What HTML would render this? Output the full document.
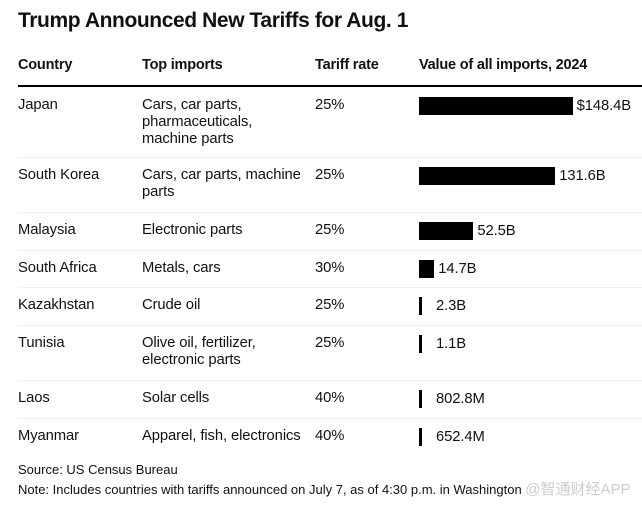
<!DOCTYPE html>
<html><head><meta charset="utf-8"><style>
body{margin:0;background:#fff;font-family:"Liberation Sans",Arial,sans-serif;color:#111;}
#root{position:relative;width:642px;height:506px;overflow:hidden;}
.t{position:absolute;white-space:nowrap;}
h1{position:absolute;left:18px;top:9px;margin:0;font-size:21px;font-weight:bold;letter-spacing:-0.4px;}
.hd{font-weight:bold;font-size:14.5px;top:57px;letter-spacing:-0.2px}
.c{font-size:14.8px;line-height:17px;letter-spacing:-0.1px}
.sep{position:absolute;left:18px;width:624px;height:1px;background:#eee;}
.bar{position:absolute;background:#000;height:18px;}
.ft{font-size:13px;}
</style></head><body><div id="root">
<h1>Trump Announced New Tariffs for Aug. 1</h1>
<div class="t hd" style="left:18px">Country</div>
<div class="t hd" style="left:142px">Top imports</div>
<div class="t hd" style="left:315px">Tariff rate</div>
<div class="t hd" style="left:419px">Value of all imports, 2024</div>
<div style="position:absolute;left:18px;top:85px;width:624px;height:2px;background:#000"></div>
<div id="rows"></div>
<div class="t ft" style="left:18px;top:462px">Source: US Census Bureau</div>
<div class="t ft" style="left:18px;top:478px">Note: Includes countries with tariffs announced on July 7, as of 4:30 p.m. in Washington <span style="color:#ccc;font-size:15px;font-family:'Liberation Sans','Noto Sans CJK SC',sans-serif">@智通财经APP</span></div>
<script>
const countries=["Japan","South Korea","Malaysia","South Africa","Kazakhstan","Tunisia","Laos","Myanmar"];
const imports=["Cars, car parts,<br>pharmaceuticals,<br>machine parts","Cars, car parts, machine<br>parts","Electronic parts","Metals, cars","Crude oil","Olive oil, fertilizer,<br>electronic parts","Solar cells","Apparel, fish, electronics"];
const rates=["25%","25%","25%","30%","25%","25%","40%","40%"];
const values=[148.4,131.6,52.5,14.7,2.3,1.1,0.8028,0.6524];
const labels=["$148.4B","131.6B","52.5B","14.7B","2.3B","1.1B","802.8M","652.4M"];
const rowTops=[87,157,212,250,287,325,380,418,455];
const x0=419,scale=1.035;
function xw(v){return Math.max(3,v*scale);}
const R=document.getElementById('rows');
countries.forEach((c,i)=>{
  const top=rowTops[i]+10;
  const mk=(l,html)=>{const d=document.createElement('div');d.className='t c';d.style.left=l+'px';d.style.top=top+'px';d.innerHTML=html;R.appendChild(d);return d;};
  const a=mk(18,c);
  
  
  const b=mk(142,imports[i]);
  
  
  const r=mk(315,rates[i]);
  
  
  const w=xw(values[i]);
  const bar=document.createElement('div');bar.className='bar';
  bar.style.left=x0+'px';bar.style.top=(top)+'px';bar.style.width=w+'px';
  
  
  R.appendChild(bar);
  const lb=mk(x0+w+(w<10?14:4),labels[i]);
  lb.style.top=(top+1)+'px';
  
  
  if(i<countries.length-1){const s=document.createElement('div');s.className='sep';s.style.top=rowTops[i+1]+'px';
  
  
  R.appendChild(s);}
});
</script>
</div></body></html>
